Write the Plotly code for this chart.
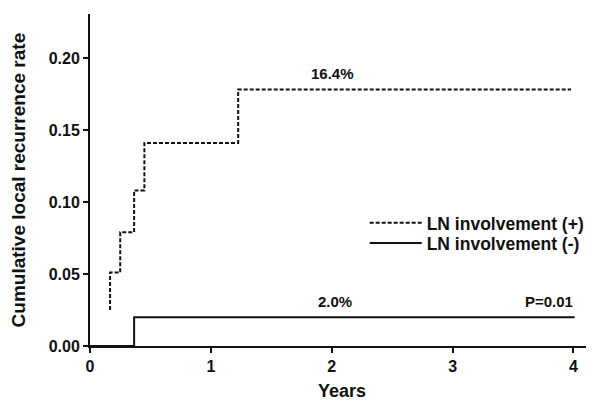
import plotly.graph_objects as go

# Data
plus_years = [0.166, 0.166, 0.25, 0.365, 0.45, 1.226, 3.98]
plus_rate = [0.025, 0.051, 0.079, 0.108, 0.141, 0.178, 0.178]
minus_years = [0.0, 0.365, 4.01]
minus_rate = [0.0, 0.020, 0.020]

series_names = ["LN involvement (+)", "LN involvement (-)"]
x_ticks = [0, 1, 2, 3, 4]
y_ticks = [0.00, 0.05, 0.10, 0.15, 0.20]

notes = [
    {"text": "16.4%", "x": 2.01, "y": 0.189},
    {"text": "2.0%", "x": 2.03, "y": 0.031},
    {"text": "P=0.01", "x": 4.01, "y": 0.031},
]

FONT = "Liberation Sans, Arial, sans-serif"
INK = "#111111"

fig = go.Figure()
fig.add_trace(go.Scatter(
    x=plus_years, y=plus_rate, mode="lines", line_shape="hv",
    name=series_names[0], legend="legend",
    line=dict(color=INK, width=2, dash="4px,2px"),
))
fig.add_trace(go.Scatter(
    x=minus_years, y=minus_rate, mode="lines", line_shape="hv",
    name=series_names[1], legend="legend2",
    line=dict(color=INK, width=2),
))

for n in notes:
    anchor = "right" if n["text"].startswith("P") else "center"
    fig.add_annotation(
        x=n["x"], y=n["y"], text=n["text"], showarrow=False,
        xanchor=anchor, yanchor="middle",
        font=dict(family=FONT, size=15, color=INK, weight="bold"),
    )

fig.add_annotation(
    xref="paper", yref="paper", x=-0.142, y=0.5,
    text="Cumulative local recurrence rate", textangle=-90, showarrow=False,
    xanchor="center", yanchor="middle",
    font=dict(family=FONT, size=19, color=INK, weight="bold"),
)
fig.add_annotation(
    xref="paper", yref="paper", x=0.5, y=-0.137,
    text="Years", showarrow=False, xanchor="center", yanchor="middle",
    font=dict(family=FONT, size=18, color=INK, weight="bold"),
)

legend_style = dict(
    xanchor="left", yanchor="middle", bgcolor="rgba(0,0,0,0)",
    font=dict(family=FONT, size=17.5, color=INK, weight="bold"),
    itemwidth=52,
)

# the page adds an 8px body margin, so the figure is sized to fit inside it
fig.update_layout(
    width=586, height=393,
    margin=dict(l=82, r=0, t=6, b=55),
    paper_bgcolor="white", plot_bgcolor="white",
    showlegend=True,
    legend=dict(x=0.545, y=0.371, **legend_style),
    legend2=dict(x=0.545, y=0.310, **legend_style),
    font=dict(family=FONT, color=INK),
)
fig.update_xaxes(
    range=[0, 4.17], tickvals=x_ticks, ticktext=[str(v) for v in x_ticks],
    showgrid=False, zeroline=False, showline=True, linecolor=INK, linewidth=2,
    ticks="outside", ticklen=5, tickwidth=2, tickcolor=INK,
    tickfont=dict(family=FONT, size=16, color=INK, weight="bold"),
)
fig.update_yaxes(
    range=[0, 0.2305], tickvals=y_ticks, ticktext=[f"{v:.2f}" for v in y_ticks],
    showgrid=False, zeroline=False, showline=True, linecolor=INK, linewidth=2,
    ticks="outside", ticklen=5, tickwidth=2, tickcolor=INK,
    tickfont=dict(family=FONT, size=16, color=INK, weight="bold"),
)

fig.write_html("out.html")
